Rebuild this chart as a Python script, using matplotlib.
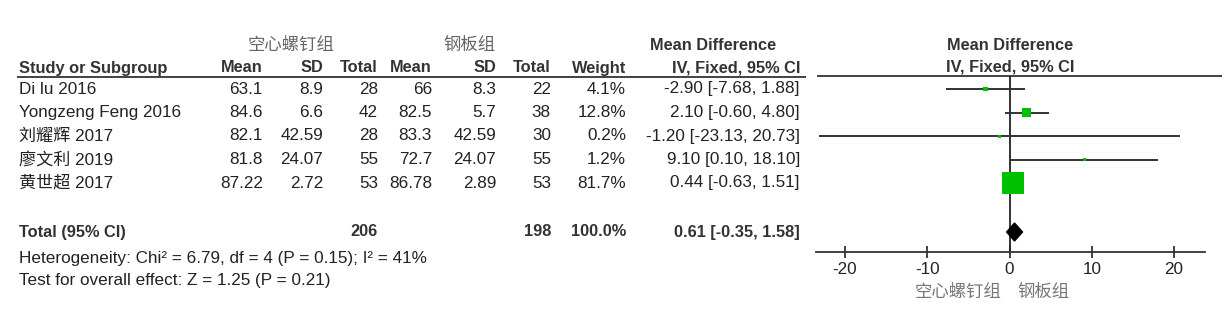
import matplotlib.pyplot as plt

# -------------------------
# Data
# -------------------------
studies = ["Di lu 2016", "Yongzeng Feng 2016", "刘耀辉 2017", "廖文利 2019", "黄世超 2017"]
exp_mean = [63.1, 84.6, 82.1, 81.8, 87.22]
exp_sd = [8.9, 6.6, 42.59, 24.07, 2.72]
exp_n = [28, 42, 28, 55, 53]
ctl_mean = [66, 82.5, 83.3, 72.7, 86.78]
ctl_sd = [8.3, 5.7, 42.59, 24.07, 2.89]
ctl_n = [22, 38, 30, 55, 53]
weight = [4.1, 12.8, 0.2, 1.2, 81.7]
md = [-2.90, 2.10, -1.20, 9.10, 0.44]
md_lo = [-7.68, -0.60, -23.13, 0.10, -0.63]
md_hi = [1.88, 4.80, 20.73, 18.10, 1.51]

total_exp_n = 206
total_ctl_n = 198
total_weight = 100.0
total_md, total_lo, total_hi = 0.61, -0.35, 1.58

group_exp = "空心螺钉组"
group_ctl = "钢板组"
het_text = "Heterogeneity: Chi² = 6.79, df = 4 (P = 0.15); I² = 41%"
effect_text = "Test for overall effect: Z = 1.25 (P = 0.21)"
xticks = [-20, -10, 0, 10, 20]

# -------------------------
# Layout (pixels)
# -------------------------
W, H = 1226, 317
FAM = ["Liberation Sans", "Noto Sans CJK SC", "DejaVu Sans"]
CJK = ["Noto Sans CJK SC", "DejaVu Sans"]
FS = 12.3
TXT = "#222222"
HEAD = "#333333"
row_y = [89 + 23.5 * i for i in range(len(studies))]
total_y = 232

fig = plt.figure(figsize=(W / 100, H / 100), dpi=100)
bg = fig.add_axes([0, 0, 1, 1])
bg.set_xlim(0, W)
bg.set_ylim(H, 0)
bg.axis("off")


def put(x, y, s, ha="right", bold=False, color=TXT, fam=FAM, fs=FS):
    bg.text(x, y, s, ha=ha, va="center", fontsize=fs, family=fam,
            fontweight="bold" if bold else "normal", color=color)


# header rows
put(291, 45, group_exp, ha="center", color="#666666", fam=CJK, fs=12.5)
put(470, 45, group_ctl, ha="center", color="#666666", fam=CJK, fs=12.5)
put(713, 45, "Mean Difference", ha="center", bold=True, color=HEAD, fs=11.8)
put(1010, 45, "Mean Difference", ha="center", bold=True, color=HEAD, fs=11.8)

cols = [263, 323, 378, 432, 496, 551, 626, 800]
heads = ["Mean", "SD", "Total", "Mean", "SD", "Total", "Weight", "IV, Fixed, 95% CI"]
put(19, 68, "Study or Subgroup", ha="left", bold=True, color=HEAD, fs=11.8)
for x, h in zip(cols, heads):
    put(x, 68, h, bold=True, color=HEAD, fs=11.8)
put(1010, 67, "IV, Fixed, 95% CI", ha="center", bold=True, color=HEAD, fs=11.8)
bg.hlines(77, 17, 806, color="#333333", lw=1.3)
bg.hlines(76, 817, 1222, color="#333333", lw=1.3)

# study rows
for i, y in enumerate(row_y):
    put(19, y, studies[i], ha="left")
    vals = [f"{exp_mean[i]:g}", f"{exp_sd[i]:g}", f"{exp_n[i]}",
            f"{ctl_mean[i]:g}", f"{ctl_sd[i]:g}", f"{ctl_n[i]}",
            f"{weight[i]:.1f}%",
            f"{md[i]:.2f} [{md_lo[i]:.2f}, {md_hi[i]:.2f}]"]
    for x, v in zip(cols, vals):
        put(x, y, v)

# total row
put(19, total_y, "Total (95% CI)", ha="left", bold=True, color=HEAD, fs=11.8)
put(cols[2], total_y, f"{total_exp_n}", bold=True, color=HEAD, fs=11.8)
put(cols[5], total_y, f"{total_ctl_n}", bold=True, color=HEAD, fs=11.8)
put(cols[6], total_y, f"{total_weight:.1f}%", bold=True, color=HEAD, fs=11.8)
put(cols[7], total_y, f"{total_md:.2f} [{total_lo:.2f}, {total_hi:.2f}]",
    bold=True, color=HEAD, fs=11.8)
put(19, 258, het_text, ha="left")
put(19, 280, effect_text, ha="left")

# -------------------------
# Forest plot
# -------------------------
px_per_unit = (1174 - 845) / 40.0
x_left, x_right = 816, 1205
ax = fig.add_axes([x_left / W, 0, (x_right - x_left) / W, 1])
ax.set_xlim((x_left - 1009.5) / px_per_unit, (x_right - 1009.5) / px_per_unit)
ax.set_ylim(H, 0)
ax.patch.set_visible(False)
for s in ["top", "left", "right"]:
    ax.spines[s].set_visible(False)
ax.spines["bottom"].set_position(("data", 252))
ax.spines["bottom"].set_color("#333333")
ax.spines["bottom"].set_linewidth(1.3)
ax.set_yticks([])
ax.set_xticks(xticks)
ax.set_xticklabels([str(t) for t in xticks], fontsize=FS, family=FAM, color=TXT)
ax.tick_params(axis="x", direction="inout", length=9, width=1.3,
               color="#333333", pad=3)

ax.vlines(0, 76, 252, color="#222222", lw=1.3)
ax.hlines(row_y, md_lo, md_hi, color="#333333", lw=1.4)
sizes = [(max(3.0, 2.45 * w ** 0.5) * 0.72) ** 2 for w in weight]
ax.scatter(md, row_y, s=sizes, marker="s", color="#00c000", zorder=3, linewidths=0)

dh = 9
ax.fill([total_lo, total_md, total_hi, total_md],
        [total_y, total_y - dh, total_y, total_y + dh],
        color="black", zorder=3)

ax.text(-1.0, 292, group_exp, ha="right", va="center", fontsize=12.5,
        family=CJK, color="#777777")
ax.text(1.0, 292, group_ctl, ha="left", va="center", fontsize=12.5,
        family=CJK, color="#777777")

fig.savefig("out.png", dpi=100)
